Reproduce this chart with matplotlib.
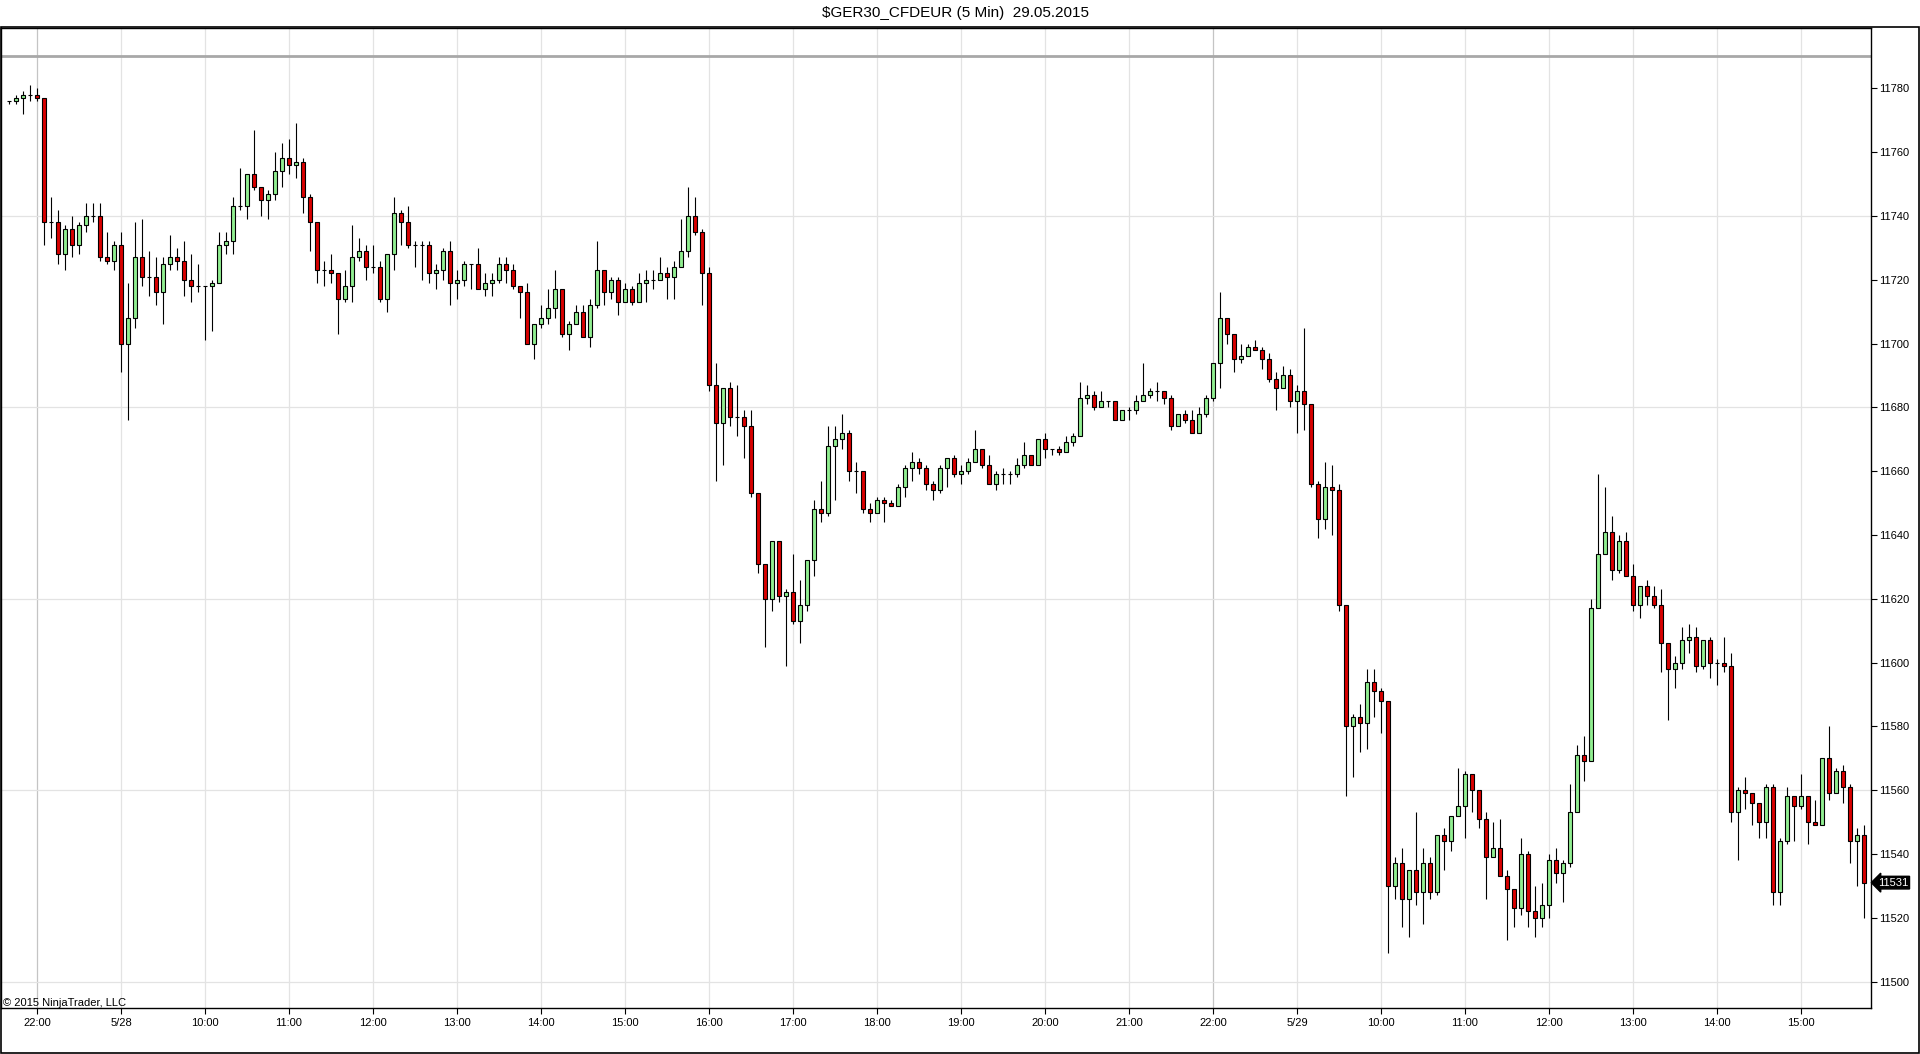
import numpy as np
import pandas as pd
import matplotlib
matplotlib.use("Agg")
from matplotlib import pyplot as plt
from matplotlib.patches import Rectangle

plt.rcParams['font.family'] = ['Liberation Sans', 'DejaVu Sans']

title = "$GER30_CFDEUR (5 Min)  29.05.2015"
copyright_text = "© 2015 NinjaTrader, LLC"
sessions = [("2015-05-27 21:40", "2015-05-27 22:55"),
            ("2015-05-28 09:00", "2015-05-28 22:55"),
            ("2015-05-29 09:00", "2015-05-29 15:45")]
grey_level = 11790
price_ticks = list(range(11500, 11781, 20))
grid_levels = list(range(11500, 11781, 60))

opens = [
    11776, 11776, 11777, 11778, 11778, 11777, 11738, 11738, 11728, 11736,
    11731, 11737, 11740, 11740, 11727, 11726, 11731, 11700, 11708, 11727,
    11721, 11721, 11716, 11725, 11727, 11726, 11720, 11718, 11718, 11718,
    11719, 11731, 11732, 11743, 11743, 11753, 11749, 11745, 11747, 11754,
    11758, 11756, 11757, 11746, 11738, 11723, 11723, 11722, 11714, 11718,
    11727, 11729, 11724, 11724, 11714, 11728, 11741, 11738, 11731, 11731,
    11731, 11722, 11723, 11729, 11719, 11720, 11725, 11725, 11717, 11719,
    11720, 11725, 11723, 11718, 11716, 11700, 11706, 11708, 11711, 11717,
    11703, 11706, 11710, 11702, 11712, 11723, 11716, 11720, 11713, 11717,
    11713, 11719, 11720, 11720, 11722, 11721, 11724, 11729, 11740, 11735,
    11722, 11687, 11675, 11686, 11677, 11677, 11674, 11653, 11631, 11620,
    11638, 11621, 11622, 11613, 11618, 11632, 11648, 11647, 11668, 11670,
    11672, 11660, 11660, 11648, 11647, 11651, 11650, 11649, 11655, 11661,
    11663, 11661, 11656, 11654, 11661, 11664, 11659, 11660, 11663, 11667,
    11662, 11656, 11659, 11659, 11659, 11662, 11665, 11662, 11670, 11667,
    11667, 11666, 11669, 11671, 11683, 11684, 11680, 11682, 11682, 11676,
    11679, 11679, 11682, 11684, 11685, 11685, 11683, 11674, 11678, 11676,
    11672, 11678, 11683, 11694, 11708, 11703, 11695, 11696, 11699, 11698,
    11695, 11689, 11686, 11690, 11682, 11685, 11681, 11656, 11645, 11655,
    11654, 11618, 11580, 11583, 11581, 11594, 11591, 11588, 11530, 11537,
    11526, 11535, 11528, 11537, 11528, 11546, 11544, 11552, 11555, 11565,
    11560, 11551, 11539, 11542, 11533, 11529, 11523, 11540, 11522, 11520,
    11524, 11538, 11534, 11537, 11553, 11571, 11569, 11617, 11634, 11641,
    11629, 11638, 11627, 11618, 11624, 11621, 11618, 11606, 11598, 11600,
    11607, 11608, 11599, 11607, 11600, 11600, 11599, 11553, 11560, 11559,
    11556, 11550, 11561, 11528, 11544, 11558, 11555, 11558, 11550, 11549,
    11570, 11559, 11566, 11561, 11544, 11546]

highs = [
    11776, 11778, 11779, 11781, 11780, 11777, 11746, 11742, 11737, 11740,
    11738, 11744, 11744, 11744, 11735, 11732, 11735, 11719, 11738, 11739,
    11729, 11727, 11727, 11734, 11730, 11732, 11728, 11725, 11718, 11720,
    11735, 11735, 11746, 11755, 11753, 11767, 11749, 11748, 11760, 11763,
    11764, 11769, 11758, 11747, 11738, 11726, 11728, 11722, 11723, 11737,
    11733, 11731, 11731, 11726, 11728, 11746, 11742, 11743, 11732, 11732,
    11732, 11725, 11730, 11732, 11723, 11726, 11725, 11730, 11722, 11722,
    11727, 11727, 11725, 11718, 11719, 11706, 11712, 11717, 11723, 11717,
    11707, 11712, 11712, 11714, 11732, 11723, 11721, 11721, 11719, 11718,
    11722, 11723, 11723, 11727, 11724, 11726, 11739, 11749, 11746, 11736,
    11724, 11694, 11686, 11688, 11687, 11679, 11679, 11653, 11631, 11638,
    11638, 11623, 11634, 11626, 11632, 11651, 11657, 11674, 11674, 11678,
    11673, 11663, 11660, 11650, 11652, 11652, 11651, 11656, 11662, 11666,
    11664, 11662, 11657, 11662, 11664, 11665, 11662, 11664, 11673, 11667,
    11665, 11660, 11661, 11660, 11664, 11669, 11665, 11670, 11672, 11667,
    11668, 11671, 11672, 11688, 11687, 11685, 11685, 11682, 11682, 11679,
    11680, 11684, 11694, 11686, 11688, 11685, 11684, 11678, 11679, 11679,
    11680, 11684, 11694, 11716, 11708, 11703, 11700, 11700, 11701, 11699,
    11697, 11691, 11693, 11692, 11687, 11705, 11681, 11657, 11663, 11662,
    11656, 11618, 11584, 11587, 11598, 11598, 11592, 11588, 11539, 11542,
    11535, 11553, 11542, 11539, 11546, 11548, 11552, 11567, 11566, 11565,
    11560, 11553, 11550, 11551, 11535, 11529, 11545, 11541, 11530, 11531,
    11540, 11542, 11538, 11562, 11574, 11577, 11620, 11659, 11655, 11646,
    11640, 11641, 11631, 11624, 11626, 11624, 11623, 11606, 11602, 11611,
    11612, 11611, 11607, 11608, 11601, 11608, 11603, 11561, 11564, 11559,
    11556, 11562, 11562, 11545, 11561, 11558, 11565, 11558, 11557, 11570,
    11580, 11567, 11568, 11562, 11548, 11549]

lows = [
    11775, 11775, 11772, 11776, 11776, 11731, 11733, 11725, 11723, 11727,
    11728, 11735, 11738, 11726, 11725, 11723, 11691, 11676, 11705, 11718,
    11715, 11712, 11706, 11723, 11723, 11715, 11713, 11716, 11701, 11704,
    11719, 11728, 11728, 11742, 11739, 11748, 11740, 11739, 11745, 11749,
    11753, 11752, 11741, 11729, 11719, 11718, 11719, 11703, 11713, 11713,
    11726, 11720, 11722, 11713, 11710, 11723, 11731, 11730, 11724, 11720,
    11719, 11717, 11720, 11712, 11714, 11718, 11717, 11717, 11715, 11715,
    11719, 11719, 11717, 11708, 11700, 11695, 11705, 11706, 11708, 11702,
    11698, 11706, 11702, 11699, 11711, 11712, 11714, 11709, 11713, 11712,
    11713, 11713, 11717, 11720, 11714, 11714, 11724, 11727, 11734, 11712,
    11685, 11657, 11662, 11674, 11671, 11664, 11652, 11628, 11605, 11616,
    11619, 11599, 11612, 11606, 11616, 11627, 11644, 11646, 11651, 11667,
    11657, 11653, 11647, 11644, 11647, 11644, 11649, 11649, 11652, 11657,
    11659, 11654, 11651, 11653, 11655, 11658, 11656, 11659, 11663, 11661,
    11656, 11654, 11656, 11656, 11658, 11661, 11662, 11662, 11664, 11665,
    11665, 11666, 11668, 11671, 11681, 11679, 11680, 11680, 11676, 11676,
    11676, 11678, 11682, 11683, 11682, 11681, 11673, 11674, 11675, 11672,
    11672, 11677, 11682, 11686, 11700, 11691, 11694, 11696, 11698, 11692,
    11688, 11679, 11686, 11680, 11672, 11673, 11655, 11639, 11642, 11640,
    11616, 11558, 11564, 11572, 11573, 11583, 11578, 11509, 11526, 11517,
    11514, 11524, 11518, 11526, 11527, 11535, 11541, 11552, 11545, 11553,
    11548, 11526, 11539, 11533, 11513, 11517, 11521, 11517, 11514, 11517,
    11520, 11531, 11525, 11536, 11553, 11563, 11569, 11617, 11634, 11626,
    11628, 11627, 11616, 11614, 11618, 11617, 11597, 11582, 11592, 11598,
    11603, 11597, 11598, 11595, 11593, 11597, 11550, 11538, 11554, 11549,
    11545, 11545, 11524, 11524, 11543, 11544, 11554, 11543, 11549, 11549,
    11557, 11559, 11556, 11537, 11530, 11520]

closes = [
    11776, 11777, 11778, 11778, 11777, 11738, 11738, 11728, 11736, 11731,
    11737, 11740, 11740, 11727, 11726, 11731, 11700, 11708, 11727, 11721,
    11721, 11716, 11725, 11727, 11726, 11720, 11718, 11718, 11718, 11719,
    11731, 11732, 11743, 11743, 11753, 11749, 11745, 11747, 11754, 11758,
    11756, 11757, 11746, 11738, 11723, 11723, 11722, 11714, 11718, 11727,
    11729, 11724, 11724, 11714, 11728, 11741, 11738, 11731, 11731, 11731,
    11722, 11723, 11729, 11719, 11720, 11725, 11725, 11717, 11719, 11720,
    11725, 11723, 11718, 11716, 11700, 11706, 11708, 11711, 11717, 11703,
    11706, 11710, 11702, 11712, 11723, 11716, 11720, 11713, 11717, 11713,
    11719, 11720, 11720, 11722, 11721, 11724, 11729, 11740, 11735, 11722,
    11687, 11675, 11686, 11677, 11677, 11674, 11653, 11631, 11620, 11638,
    11621, 11622, 11613, 11618, 11632, 11648, 11647, 11668, 11670, 11672,
    11660, 11660, 11648, 11647, 11651, 11650, 11649, 11655, 11661, 11663,
    11661, 11656, 11654, 11661, 11664, 11659, 11660, 11663, 11667, 11662,
    11656, 11659, 11659, 11659, 11662, 11665, 11662, 11670, 11667, 11667,
    11666, 11669, 11671, 11683, 11684, 11680, 11682, 11682, 11676, 11679,
    11679, 11682, 11684, 11685, 11685, 11683, 11674, 11678, 11676, 11672,
    11678, 11683, 11694, 11708, 11703, 11695, 11696, 11699, 11698, 11695,
    11689, 11686, 11690, 11682, 11685, 11681, 11656, 11645, 11655, 11654,
    11618, 11580, 11583, 11581, 11594, 11591, 11588, 11530, 11537, 11526,
    11535, 11528, 11537, 11528, 11546, 11544, 11552, 11555, 11565, 11560,
    11551, 11539, 11542, 11533, 11529, 11523, 11540, 11522, 11520, 11524,
    11538, 11534, 11537, 11553, 11571, 11569, 11617, 11634, 11641, 11629,
    11638, 11627, 11618, 11624, 11621, 11618, 11606, 11598, 11600, 11607,
    11608, 11599, 11607, 11600, 11600, 11599, 11553, 11560, 11559, 11556,
    11550, 11561, 11528, 11544, 11558, 11555, 11558, 11550, 11549, 11570,
    11559, 11566, 11561, 11544, 11546, 11531]

times = pd.DatetimeIndex([t for a, b in sessions for t in pd.date_range(a, b, freq="5min")])
x = np.arange(len(times))
o, h, l, c = map(np.array, (opens, highs, lows, closes))

# hour ticks, date label on first bar of a day, darker line at 22:00
tick_pos, tick_lab, breaks = [], [], []
for i, t in enumerate(times):
    if t.minute == 0:
        new_day = i > 0 and t.date() != times[i - 1].date()
        tick_pos.append(i)
        tick_lab.append(f"{t.month}/{t.day}" if new_day else t.strftime("%H:%M"))
        if t.hour == 22:
            breaks.append(i)

fig = plt.figure(figsize=(19.2, 10.54), dpi=100)
ax = fig.add_axes([1 / 1920, 46 / 1054, 1870 / 1920, 980 / 1054])

for p in tick_pos:
    ax.axvline(p, color='#C4C4C4' if p in breaks else '#E3E3E3', lw=0.9, zorder=0)
for y in grid_levels:
    ax.axhline(y, color='#E3E3E3', lw=0.9, zorder=0)
ax.axhline(grey_level, color='#A8A8A8', lw=2, zorder=1)

colors = np.where(c >= o, '#90EE90', '#D90000')
body = np.abs(c - o)
ax.vlines(x, l, h, color='black', lw=0.8, zorder=2)
ax.bar(x, np.where(body == 0, 0.001, body), bottom=np.minimum(o, c), width=0.62,
       color=colors, edgecolor='black', linewidth=0.8, zorder=3)

ax.set_xlim(-1.14, 266)
ax.set_ylim(11491.7, 11798.9)
ax.set_xticks(tick_pos)
ax.set_xticklabels(tick_lab)
ax.set_yticks(price_ticks)
ax.yaxis.tick_right()
ax.tick_params(axis='y', length=4, width=0.8, pad=2, labelsize=8)
ax.tick_params(axis='x', length=4, width=0.8, pad=3, labelsize=8)
for s in ax.spines.values():
    s.set_color('black')
    s.set_linewidth(1)

ax.annotate(f"{closes[-1]}", xy=(1, closes[-1]), xycoords=('axes fraction', 'data'),
            xytext=(5, 0), textcoords='offset points', ha='left', va='center',
            color='white', fontsize=8, annotation_clip=False,
            bbox=dict(boxstyle='larrow,pad=0.12', fc='black', ec='black'))

fig.text(956 / 1920, 1 - 13 / 1054, title, ha='center', va='center', fontsize=11)
fig.text(3 / 1920, 1 - 1003 / 1054, copyright_text, ha='left', va='center', fontsize=8)
fig.add_artist(Rectangle((0.5 / 1920, 1 / 1054), 1 - 1.5 / 1920, 1026 / 1054,
                         transform=fig.transFigure, fill=False, ec='black', lw=1.2))

fig.savefig('out.png', dpi=100)
